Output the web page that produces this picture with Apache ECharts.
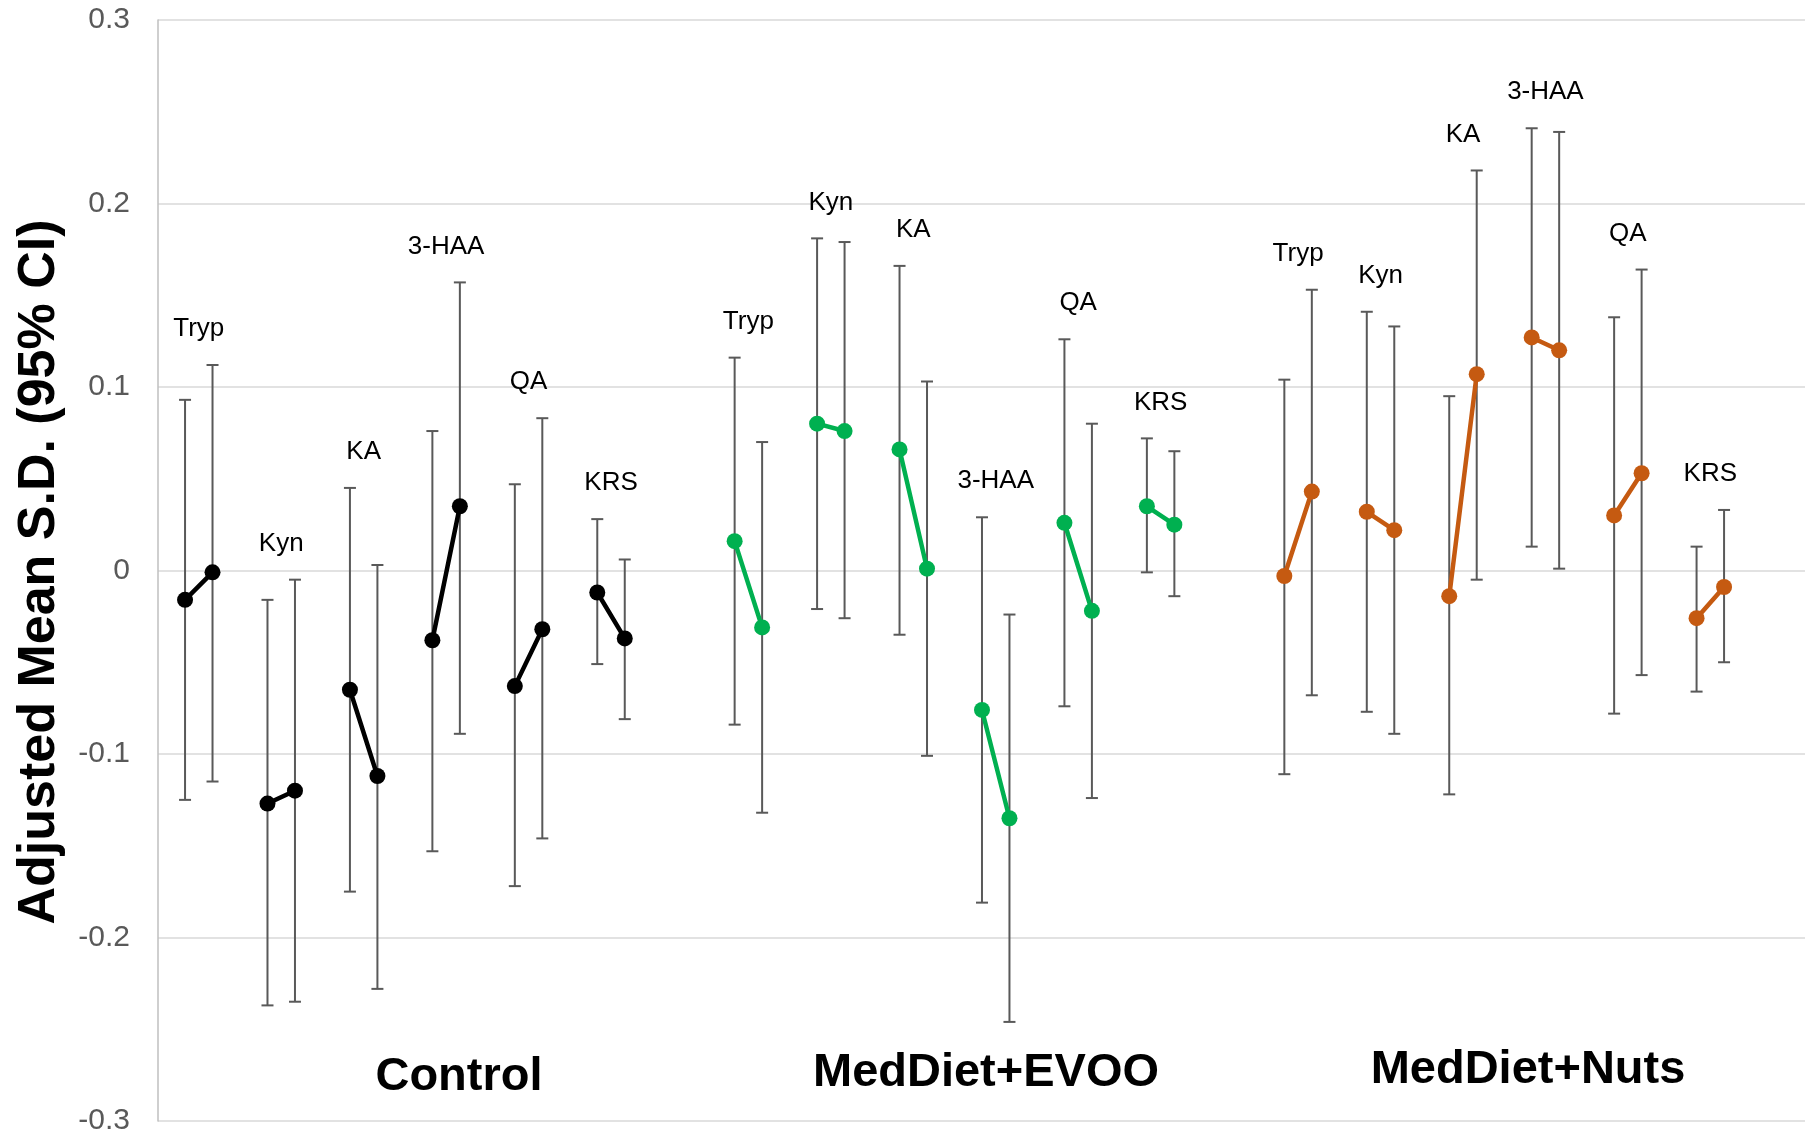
<!DOCTYPE html>
<html>
<head>
<meta charset="utf-8">
<script src="https://cdn.jsdelivr.net/npm/echarts@6/dist/echarts.min.js"></script>
<style>
html,body{margin:0;padding:0;background:#fff;}
#chart{width:1805px;height:1138px;}
</style>
</head>
<body>
<div id="chart"></div>
<script>
// ---------- data ----------
const metabolites = ['Tryp', 'Kyn', 'KA', '3-HAA', 'QA', 'KRS'];
const groupNames = ['Control', 'MedDiet+EVOO', 'MedDiet+Nuts'];
const yTickLabels = ['-0.3', '-0.2', '-0.1', '0', '0.1', '0.2', '0.3'];

// Control
const controlBaseline     = [-0.016, -0.127, -0.065, -0.038, -0.063, -0.012];
const controlBaselineLow  = [-0.125, -0.237, -0.175, -0.153, -0.172, -0.051];
const controlBaselineHigh = [ 0.093, -0.016,  0.045,  0.076,  0.047,  0.028];
const controlYear1        = [-0.001, -0.120, -0.112,  0.035, -0.032, -0.037];
const controlYear1Low     = [-0.115, -0.235, -0.228, -0.089, -0.146, -0.081];
const controlYear1High    = [ 0.112, -0.005,  0.003,  0.157,  0.083,  0.006];

// MedDiet+EVOO
const evooBaseline     = [ 0.016,  0.080,  0.066, -0.076,  0.026,  0.035];
const evooBaselineLow  = [-0.084, -0.021, -0.035, -0.181, -0.074, -0.001];
const evooBaselineHigh = [ 0.116,  0.181,  0.166,  0.029,  0.126,  0.072];
const evooYear1        = [-0.031,  0.076,  0.001, -0.135, -0.022,  0.025];
const evooYear1Low     = [-0.132, -0.026, -0.101, -0.246, -0.124, -0.014];
const evooYear1High    = [ 0.070,  0.179,  0.103, -0.024,  0.080,  0.065];

// MedDiet+Nuts
const nutsBaseline     = [-0.003,  0.032, -0.014,  0.127,  0.030, -0.026];
const nutsBaselineLow  = [-0.111, -0.077, -0.122,  0.013, -0.078, -0.066];
const nutsBaselineHigh = [ 0.104,  0.141,  0.095,  0.241,  0.138,  0.013];
const nutsYear1        = [ 0.043,  0.022,  0.107,  0.120,  0.053, -0.009];
const nutsYear1Low     = [-0.068, -0.089, -0.005,  0.001, -0.057, -0.050];
const nutsYear1High    = [ 0.153,  0.133,  0.218,  0.239,  0.164,  0.033];

// ---------- build ----------
const groupsData = [
  {base: controlBaseline, baseLo: controlBaselineLow, baseHi: controlBaselineHigh,
   y1: controlYear1, y1Lo: controlYear1Low, y1Hi: controlYear1High, color: '#000000'},
  {base: evooBaseline, baseLo: evooBaselineLow, baseHi: evooBaselineHigh,
   y1: evooYear1, y1Lo: evooYear1Low, y1Hi: evooYear1High, color: '#00b050'},
  {base: nutsBaseline, baseLo: nutsBaselineLow, baseHi: nutsBaselineHigh,
   y1: nutsYear1, y1Lo: nutsYear1Low, y1Hi: nutsYear1High, color: '#c55a11'}
];

// slots: two time points per metabolite + one empty slot between metabolites
const slots = [];
metabolites.forEach((m, i) => {
  slots.push(m + ' baseline', m + ' 1 year');
  if (i < metabolites.length - 1) slots.push('');
});

const FONT = '"Liberation Sans", Arial, sans-serif';
const TOP = 20, BOTTOM = 17;
const groupGrids = [
  {left: 171.3, width: 467.2},
  {left: 720.9, width: 467.2},
  {left: 1270.6, width: 467.2}
];

const grids = [{left: 158, right: 0, top: TOP, bottom: BOTTOM}];
const xAxes = [{gridIndex: 0, type: 'value', min: 0, max: 1, show: false}];
const yAxes = [{
  gridIndex: 0, type: 'value', min: -0.3, max: 0.3, interval: 0.1,
  axisLine: {show: true, lineStyle: {color: '#bfbfbf', width: 1.5}},
  axisTick: {show: false},
  axisLabel: {
    color: '#595959', fontSize: 30, fontFamily: FONT, margin: 28,
    formatter: v => yTickLabels[Math.round((v + 0.3) * 10)]
  },
  splitLine: {show: true, lineStyle: {color: '#d9d9d9', width: 1.5}}
}];
const series = [];

groupsData.forEach((g, gi) => {
  const idx = gi + 1;
  grids.push({left: groupGrids[gi].left, width: groupGrids[gi].width, top: TOP, bottom: BOTTOM});
  xAxes.push({gridIndex: idx, type: 'category', data: slots, boundaryGap: true, show: false});
  yAxes.push({gridIndex: idx, type: 'value', min: -0.3, max: 0.3, show: false, splitLine: {show: false}});

  const lineData = slots.map(() => '-');
  const errData = [];
  const labelData = [];
  metabolites.forEach((m, mi) => {
    const s = mi * 3;
    lineData[s] = g.base[mi];
    lineData[s + 1] = g.y1[mi];
    errData.push([s, g.baseLo[mi], g.baseHi[mi]]);
    errData.push([s + 1, g.y1Lo[mi], g.y1Hi[mi]]);
    labelData.push([s, Math.max(g.baseHi[mi], g.y1Hi[mi])]);
  });

  // error bars
  series.push({
    type: 'custom', xAxisIndex: idx, yAxisIndex: idx, z: 2,
    data: errData,
    renderItem: (params, api) => {
      const hi = api.coord([api.value(0), api.value(2)]);
      const lo = api.coord([api.value(0), api.value(1)]);
      const cw = 6;
      const style = {stroke: '#595959', lineWidth: 2, fill: null};
      return {type: 'group', children: [
        {type: 'line', shape: {x1: hi[0], y1: hi[1], x2: lo[0], y2: lo[1]}, style},
        {type: 'line', shape: {x1: hi[0] - cw, y1: hi[1], x2: hi[0] + cw, y2: hi[1]}, style},
        {type: 'line', shape: {x1: lo[0] - cw, y1: lo[1], x2: lo[0] + cw, y2: lo[1]}, style}
      ]};
    }
  });

  // means connected per metabolite
  series.push({
    type: 'line', xAxisIndex: idx, yAxisIndex: idx, z: 5,
    data: lineData, connectNulls: false,
    symbol: 'circle', symbolSize: 16, showAllSymbol: true,
    lineStyle: {color: g.color, width: 4.5},
    itemStyle: {color: g.color, borderWidth: 0}
  });

  // metabolite labels
  series.push({
    type: 'custom', xAxisIndex: idx, yAxisIndex: idx, z: 6,
    data: labelData,
    renderItem: (params, api) => {
      const p0 = api.coord([api.value(0), api.value(1)]);
      const p1 = api.coord([api.value(0) + 1, api.value(1)]);
      return {
        type: 'text',
        style: {
          x: (p0[0] + p1[0]) / 2, y: p0[1] - 36,
          text: metabolites[params.dataIndex],
          textAlign: 'center', textVerticalAlign: 'middle',
          font: '26px ' + FONT, fill: '#000000'
        }
      };
    }
  });
});

const groupLabelPos = [[459, 1077], [986, 1073], [1528, 1070]];
const graphic = groupNames.map((name, i) => ({
  type: 'text',
  x: groupLabelPos[i][0], y: groupLabelPos[i][1],
  style: {text: name, textAlign: 'center', textVerticalAlign: 'middle',
          font: 'bold 47px ' + FONT, fill: '#000000'}
}));
graphic.push({
  type: 'text', x: 40, y: 572, rotation: Math.PI / 2,
  style: {text: 'Adjusted Mean S.D. (95% CI)', textAlign: 'center', textVerticalAlign: 'middle',
          font: 'bold 52px ' + FONT, fill: '#000000'}
});

const chart = echarts.init(document.getElementById('chart'), null, {renderer: 'canvas'});
chart.setOption({
  animation: false,
  backgroundColor: '#ffffff',
  grid: grids, xAxis: xAxes, yAxis: yAxes,
  series: series,
  graphic: graphic
});
</script>
</body>
</html>
